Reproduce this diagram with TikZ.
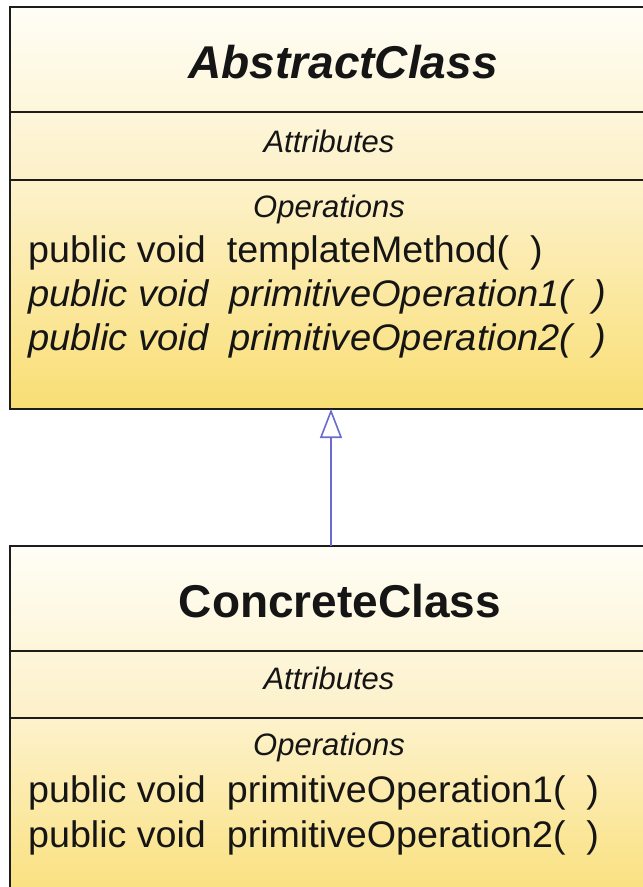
\documentclass[tikz,border=0pt]{standalone}
\usepackage{fontspec}
\setmainfont{Liberation Sans}
\usetikzlibrary{arrows.meta}

\definecolor{umlline}{HTML}{1C1C1C}
\definecolor{umltext}{HTML}{151515}
\definecolor{headtop}{HTML}{FFFEF6}
\definecolor{headbot}{HTML}{FDF6DA}
\definecolor{attrtop}{HTML}{FDF6DA}
\definecolor{attrbot}{HTML}{FCF0C8}
\definecolor{opstop}{HTML}{FDF2CC}
\definecolor{opsbot}{HTML}{F9DE74}
\definecolor{inherit}{HTML}{6A6AD0}

\tikzset{
  compart/.style={draw=umlline, line width=2.2pt, inner sep=0pt, outer sep=0pt,
    minimum width=642pt, anchor=north west},
  headpart/.style={compart, top color=headtop, bottom color=headbot},
  attrpart/.style={compart, top color=attrtop, bottom color=attrbot},
  opspart/.style={compart, top color=opstop, bottom color=opsbot},
  classname/.style={inner sep=0pt, anchor=base, text=umltext, font=\fontsize{46}{50}\selectfont\bfseries},
  section/.style={inner sep=0pt, anchor=base, text=umltext, font=\fontsize{31}{34}\selectfont\itshape},
  member/.style={inner sep=0pt, anchor=base west, text=umltext,
    font=\fontsize{37}{40}\selectfont\addfontfeature{FakeStretch=1.017}},
  abstractmember/.style={member,
    font=\fontsize{37}{40}\selectfont\itshape\addfontfeature{FakeStretch=1.03}},
  generalization/.style={draw=inherit, line width=1.6pt,
    -{Triangle[open, length=29pt, width=22pt, fill=white]}},
}

\begin{document}
\begin{tikzpicture}[x=1pt, y=-1pt]
  \useasboundingbox (0,0) rectangle (643,887);
  \fill[white] (0,0) rectangle (643,887);
  \clip (0,0) rectangle (643,887);

  % abstract class
  \node[headpart, minimum height=105pt] (absName) at (10,7) {};
  \node[attrpart, minimum height=68pt]  (absAttr) at (10,112) {};
  \node[opspart,  minimum height=229pt] (absOps)  at (10,180) {};

  \node[classname, font=\fontsize{46}{50}\selectfont\bfseries\itshape] (absTitle) at (343,78) {AbstractClass};
  \node[section] (absAttrLbl) at (329,152) {Attributes};
  \node[section] (absOpsLbl)  at (329,217) {Operations};
  \node[member]         (absOp0) at (28,262) {public void\ \ templateMethod(\ \ )};
  \node[abstractmember] (absOp1) at (28,306) {public void\ \ primitiveOperation1(\ \ )};
  \node[abstractmember] (absOp2) at (28,350) {public void\ \ primitiveOperation2(\ \ )};

  % concrete class
  \node[headpart, minimum height=105pt] (conName) at (10,546) {};
  \node[attrpart, minimum height=67pt]  (conAttr) at (10,651) {};
  \node[opspart,  minimum height=200pt] (conOps)  at (10,718) {};

  \node[classname] (conTitle) at (340,617) {ConcreteClass};
  \node[section] (conAttrLbl) at (329,689) {Attributes};
  \node[section] (conOpsLbl)  at (329,755) {Operations};
  \node[member] (conOp1) at (28,802) {public void\ \ primitiveOperation1(\ \ )};
  \node[member] (conOp2) at (28,847) {public void\ \ primitiveOperation2(\ \ )};

  % inheritance
  \draw[generalization] (conName.north) -- (absOps.south);
\end{tikzpicture}
\end{document}
